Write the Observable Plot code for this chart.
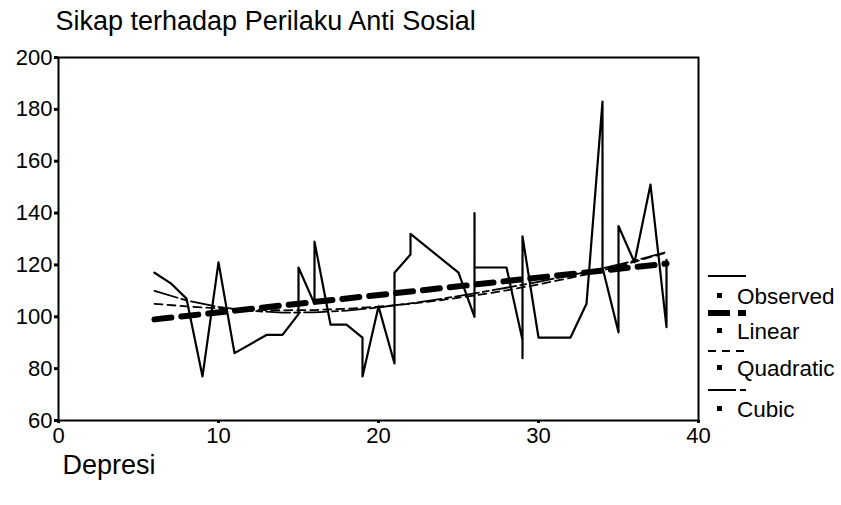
<!DOCTYPE html>
<html>
<head>
<meta charset="utf-8">
<script src="https://cdn.jsdelivr.net/npm/d3@7"></script>
<script src="https://cdn.jsdelivr.net/npm/@observablehq/plot@0.6"></script>
<style>
  html, body { margin: 0; padding: 0; background: #fff; }
  #wrap { position: relative; width: 841px; height: 505px; font-family: "Liberation Sans", Arial, sans-serif; }
  #legend { position: absolute; left: 0; top: 0; }
</style>
</head>
<body>
<div id="wrap"></div>
<script>
const titleText = "Sikap terhadap Perilaku Anti Sosial";
const xLabel = "Depresi";
const xTicks = [0, 10, 20, 30, 40];
const yTicks = [60, 80, 100, 120, 140, 160, 180, 200];

// Observed (in drawing order)
const obsX = [6, 7, 8, 9, 10, 11, 13, 14, 15, 15, 16, 16, 17, 18, 19, 19, 20, 21, 21, 22, 22, 25, 26, 26, 26, 28, 29, 29, 29, 30, 32, 33, 34, 34, 35, 35, 36, 37, 38, 38];
const obsY = [117, 113, 107, 77, 121, 86, 93, 93, 101, 119, 105, 129, 97, 97, 92, 77, 104, 82, 117, 124, 132, 117, 100, 140, 119, 119, 91, 84, 131, 92, 92, 105, 183, 119, 94, 135, 121, 151, 96, 122];

// Linear fit
const linX = [6, 38];
const linY = [99, 120.5];

const fitX = [6, 8, 10, 12, 14, 16, 18, 20, 22, 24, 26, 28, 30, 32, 34, 36, 38];
const quadY = [105, 104, 103.2, 102.7, 102.5, 102.6, 103.1, 103.9, 105, 106.5, 108.2, 110.2, 112.5, 115, 117.9, 121.2, 124.8];
const cubicY = [110, 106.3, 103.8, 102.3, 101.6, 101.7, 102.4, 103.6, 105.2, 107, 109, 111.2, 113.5, 116, 118.7, 121.6, 125];

const legendLabels = ["Observed", "Linear", "Quadratic", "Cubic"];

const obs = obsX.map((x, i) => ({x, y: obsY[i]}));
const lin = linX.map((x, i) => ({x, y: linY[i]}));
const quad = fitX.map((x, i) => ({x, y: quadY[i]}));
const cub = fitX.map((x, i) => ({x, y: cubicY[i]}));

const font = "'Liberation Sans', Arial, sans-serif";

const chart = Plot.plot({
  width: 841,
  height: 505,
  marginLeft: 58,
  marginRight: 143,
  marginTop: 57,
  marginBottom: 85,
  style: { fontFamily: font, background: "#fff", overflow: "visible" },
  x: { domain: [0, 40] },
  y: { domain: [60, 200] },
  marks: [
    Plot.line(obs, {x: "x", y: "y", stroke: "#000", strokeWidth: 2.2, curve: "linear"}),
    Plot.line(quad, {x: "x", y: "y", stroke: "#000", strokeWidth: 1.8, strokeDasharray: "8,5", curve: "linear"}),
    Plot.line(cub, {x: "x", y: "y", stroke: "#000", strokeWidth: 1.8, strokeDasharray: "24,4,6,4", curve: "linear"}),
    Plot.line(lin, {x: "x", y: "y", stroke: "#000", strokeWidth: 6, strokeDasharray: "17,10"}),
    Plot.frame({stroke: "#000", strokeWidth: 2}),
    Plot.axisY({ticks: yTicks, tickSize: 4, tickPadding: 2, strokeWidth: 3, fontSize: 22, fill: "#000", label: null, tickFormat: d => String(d)}),
    Plot.axisX({ticks: xTicks, tickSize: 3, tickPadding: 4, strokeWidth: 3, fontSize: 22, fill: "#000", label: null, tickFormat: d => String(d)}),
    Plot.text([titleText], {frameAnchor: "top-left", text: d => d, dx: -3, dy: -36, lineAnchor: "middle", textAnchor: "start", fontSize: 27, fill: "#000"}),
    Plot.text([xLabel], {frameAnchor: "bottom-left", text: d => d, dx: 4, dy: 45, lineAnchor: "middle", textAnchor: "start", fontSize: 27, fill: "#000"})
  ]
});

const wrap = document.getElementById("wrap");
wrap.appendChild(chart);

// Legend
const styles = [
  {w: 1.8, dash: null},
  {w: 6, dash: "22,8"},
  {w: 1.8, dash: "8,6"},
  {w: 1.8, dash: "28,4,6,4"}
];
const sampleY = [276, 313, 351, 390];
const textY = [296, 331, 368, 409];
const svg = d3.select(wrap).append("svg")
  .attr("id", "legend").attr("width", 841).attr("height", 505)
  .style("font-family", font);
legendLabels.forEach((lab, i) => {
  svg.append("line").attr("x1", 708).attr("x2", 746)
    .attr("y1", sampleY[i]).attr("y2", sampleY[i])
    .attr("stroke", "#000").attr("stroke-width", styles[i].w)
    .attr("stroke-dasharray", styles[i].dash);
  svg.append("rect").attr("x", 717).attr("y", textY[i] - 3).attr("width", 5).attr("height", 5).attr("fill", "#000");
  svg.append("text").attr("x", 737).attr("y", textY[i]).attr("dy", "0.35em")
    .attr("font-size", 22.5).attr("fill", "#000").text(lab);
});
</script>
</body>
</html>
